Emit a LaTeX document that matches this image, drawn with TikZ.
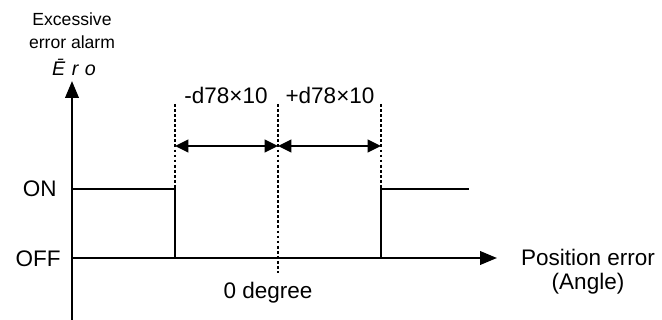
\documentclass[tikz,border=0pt]{standalone}
\usepackage{fontspec}
\setmainfont{Liberation Sans}
\usetikzlibrary{arrows.meta,positioning}

\begin{document}
\begin{tikzpicture}[x=0.025cm,y=-0.025cm,
  sigline/.style={line width=1.7pt},
  guide/.style={line width=1.5pt,dash pattern=on 2pt off 1.6pt},
  axisarr/.style={-{Triangle[length=12pt,width=9.5pt]},line width=1.7pt},
  dimarr/.style={{Triangle[length=9.5pt,width=9pt]}-{Triangle[length=9.5pt,width=9pt]},line width=1.7pt},
  biglbl/.style={font=\fontsize{16}{17}\selectfont,inner sep=0pt,align=center},
  smalllbl/.style={font=\fontsize{12.5}{17}\selectfont,inner sep=0pt,align=center}
]
  \useasboundingbox (0,0) rectangle (662,320);
  % axes
  \coordinate (ybot) at (72,320);
  \coordinate (ytop) at (72,81);
  \coordinate (orig) at (72,258);
  \coordinate (xend) at (497,258);
  \draw[axisarr] (ybot) -- (ytop);
  \draw[axisarr] (orig) -- (xend);
  % alarm signal
  \coordinate (onleft) at (72,189);
  \coordinate (falltop) at (175,189);
  \coordinate (fallbot) at (175,258);
  \coordinate (risebot) at (381,258);
  \coordinate (risetop) at (381,189);
  \coordinate (onright) at (469,189);
  \draw[sigline] (onleft) -- (falltop) -- (fallbot);
  \draw[sigline] (risebot) -- (risetop) -- (onright);
  % guide lines
  \coordinate (gleft) at (175,104);
  \coordinate (gmid) at (278,104);
  \coordinate (gmidbot) at (278,273);
  \coordinate (gright) at (381,104);
  \draw[guide] (gleft) -- (falltop);
  \draw[guide] (gmid) -- (gmidbot);
  \draw[guide] (gright) -- (risetop);
  % dimension arrows
  \coordinate (dleft) at (175,146);
  \coordinate (dmid) at (278,146);
  \coordinate (dright) at (381,146);
  \draw[dimarr] (dleft) -- (dmid);
  \draw[dimarr] (dmid) -- (dright);
  % labels
  \node[biglbl] (minuslbl) at (226,95) {-d78×10};
  \node[biglbl] (pluslbl) at (330,95) {+d78×10};
  \node[biglbl,anchor=base] (zerolbl) at (268,298) {0 degree};
  \node[biglbl,anchor=base east] (onlbl) at (57,197) {ON};
  \node[biglbl,anchor=base east] (offlbl) at (61,266) {OFF};
  \node[biglbl,anchor=base] (poslbl) at (588,289) {Position error\\(Angle)};
  \node[smalllbl,anchor=base] (alarmlbl) at (72,49) {Excessive\\error alarm};
  \node[smalllbl,font=\fontsize{14}{14}\selectfont\itshape,anchor=base] (erolbl) at (74,76) {\=E\,\,r\,\,o};
\end{tikzpicture}
\end{document}
